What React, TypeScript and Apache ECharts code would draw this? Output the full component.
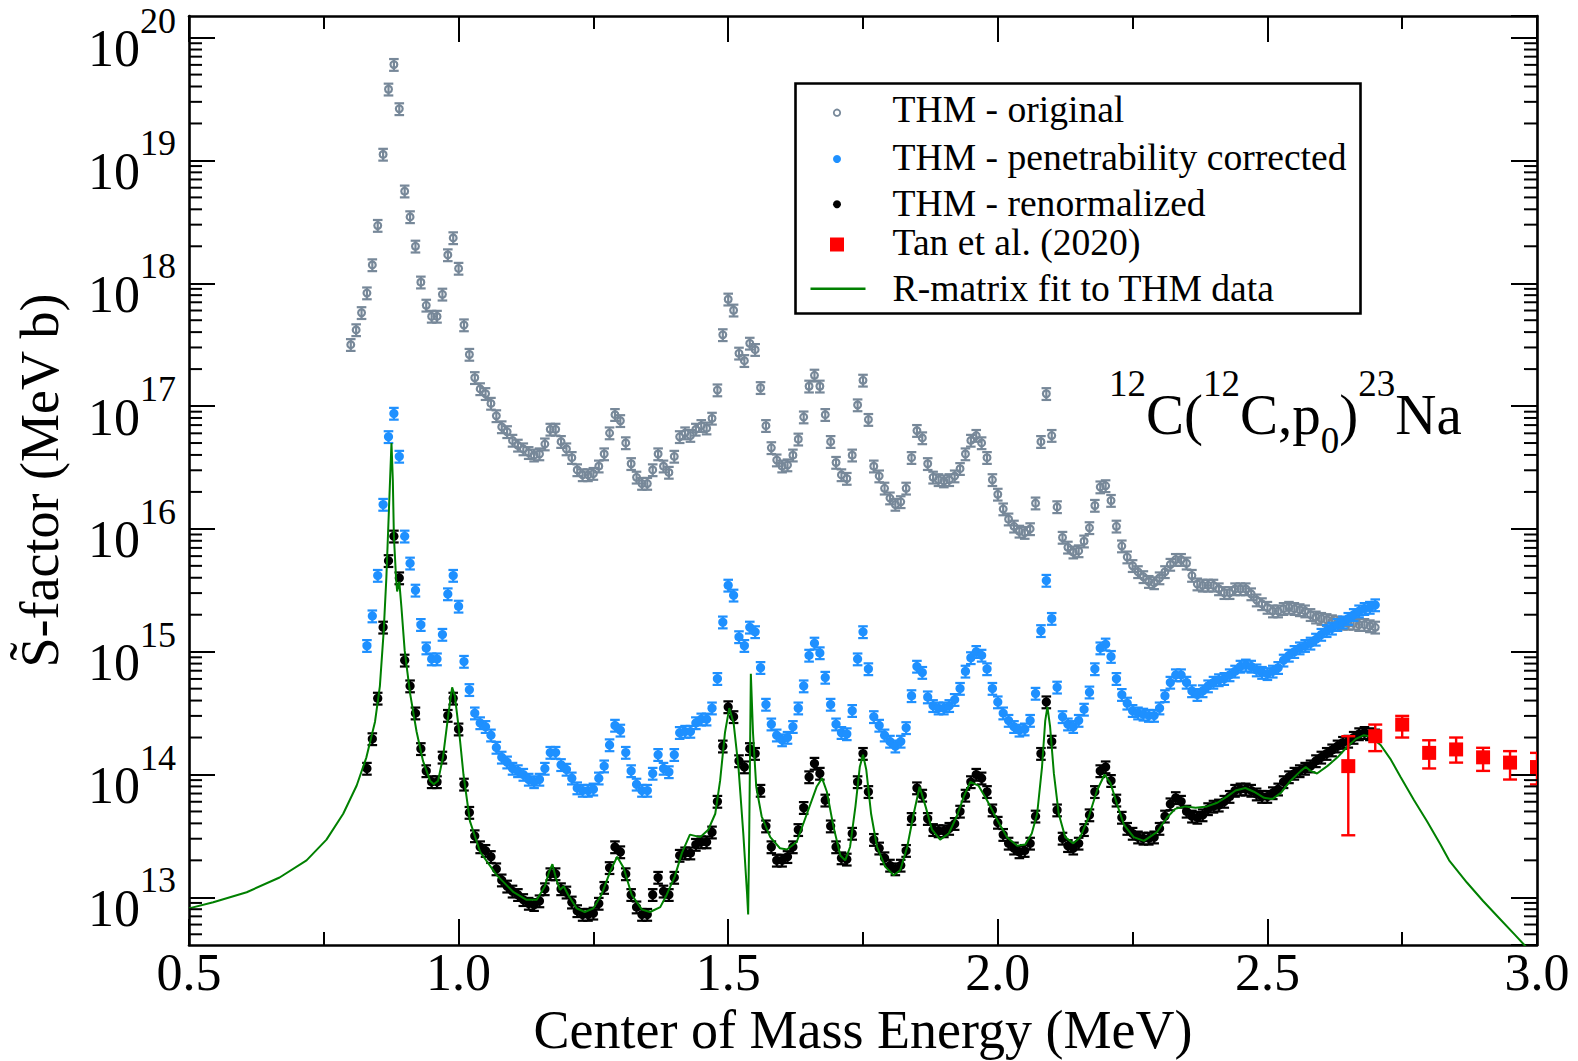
import React, { useEffect, useRef } from "react";
import * as echarts from "echarts";

// ---------------- data ----------------
const FONT = "'Liberation Serif', 'Times New Roman', serif";

const X_MIN = 0.5;
const X_MAX = 3.0;
const X_INTERVAL = 0.5;
const Y_MIN = 4.09e12;
const Y_MAX = 1.5e20;

const xTickLabels = ["0.5", "1.0", "1.5", "2.0", "2.5", "3.0"];

// relative error bar of the THM points (as drawn)
const THM_REL_ERR = 0.11;

const thmEnergy = [
  0.80, 0.81, 0.82, 0.83, 0.84, 0.85, 0.86, 0.87, 0.88, 0.89,
  0.90, 0.91, 0.92, 0.93, 0.94, 0.95, 0.96, 0.97, 0.98, 0.99,
  1.00, 1.01, 1.02, 1.03, 1.04, 1.05, 1.06, 1.07, 1.08, 1.09,
  1.10, 1.11, 1.12, 1.13, 1.14, 1.15, 1.16, 1.17, 1.18, 1.19,
  1.20, 1.21, 1.22, 1.23, 1.24, 1.25, 1.26, 1.27, 1.28, 1.29,
  1.30, 1.31, 1.32, 1.33, 1.34, 1.35, 1.36, 1.37, 1.38, 1.39,
  1.40, 1.41, 1.42, 1.43, 1.44, 1.45, 1.46, 1.47, 1.48, 1.49,
  1.50, 1.51, 1.52, 1.53, 1.54, 1.55, 1.56, 1.57, 1.58, 1.59,
  1.60, 1.61, 1.62, 1.63, 1.64, 1.65, 1.66, 1.67, 1.68, 1.69,
  1.70, 1.71, 1.72, 1.73, 1.74, 1.75, 1.76, 1.77, 1.78, 1.79,
  1.80, 1.81, 1.82, 1.83, 1.84, 1.85, 1.86, 1.87, 1.88, 1.89,
  1.90, 1.91, 1.92, 1.93, 1.94, 1.95, 1.96, 1.97, 1.98, 1.99,
  2.00, 2.01, 2.02, 2.03, 2.04, 2.05, 2.06, 2.07, 2.08, 2.09,
  2.10, 2.11, 2.12, 2.13, 2.14, 2.15, 2.16, 2.17, 2.18, 2.19,
  2.20, 2.21, 2.22, 2.23, 2.24, 2.25, 2.26, 2.27, 2.28, 2.29,
  2.30, 2.31, 2.32, 2.33, 2.34, 2.35, 2.36, 2.37, 2.38, 2.39,
  2.40, 2.41, 2.42, 2.43, 2.44, 2.45, 2.46, 2.47, 2.48, 2.49,
  2.50, 2.51, 2.52, 2.53, 2.54, 2.55, 2.56, 2.57, 2.58, 2.59,
  2.60, 2.61, 2.62, 2.63, 2.64, 2.65, 2.66, 2.67, 2.68, 2.69,
  2.70,
];

const thmOriginal = [
  3.16e17, 4.17e17, 5.75e17, 8.32e17, 1.41e18, 2.95e18, 1.12e19, 3.80e19, 6.03e19, 2.63e19,
  5.62e18, 3.47e18, 2.00e18, 1.02e18, 6.61e17, 5.37e17, 5.37e17, 8.13e17, 1.70e18, 2.34e18,
  1.32e18, 4.57e17, 2.63e17, 1.70e17, 1.38e17, 1.26e17, 1.05e17, 8.32e16, 6.76e16, 6.17e16,
  5.25e16, 4.79e16, 4.47e16, 4.17e16, 3.98e16, 4.07e16, 4.90e16, 6.46e16, 6.46e16, 5.13e16,
  4.47e16, 3.80e16, 3.02e16, 2.75e16, 2.75e16, 2.82e16, 3.24e16, 4.07e16, 6.03e16, 8.51e16,
  7.59e16, 5.01e16, 3.39e16, 2.63e16, 2.34e16, 2.34e16, 3.02e16, 4.07e16, 3.24e16, 2.88e16,
  3.89e16, 5.62e16, 6.03e16, 5.75e16, 6.46e16, 6.92e16, 6.61e16, 7.94e16, 1.35e17, 3.80e17,
  7.41e17, 6.03e17, 2.69e17, 2.34e17, 3.24e17, 2.88e17, 1.41e17, 6.92e16, 4.57e16, 3.63e16,
  3.24e16, 3.31e16, 3.98e16, 5.37e16, 8.13e16, 1.45e17, 1.78e17, 1.45e17, 8.51e16, 5.13e16,
  3.47e16, 2.75e16, 2.57e16, 3.98e16, 1.02e17, 1.62e17, 7.76e16, 3.24e16, 2.69e16, 2.14e16,
  1.78e16, 1.58e16, 1.66e16, 2.14e16, 3.80e16, 6.31e16, 5.50e16, 3.39e16, 2.63e16, 2.51e16,
  2.45e16, 2.51e16, 2.69e16, 3.09e16, 4.07e16, 5.25e16, 5.75e16, 5.01e16, 3.80e16, 2.51e16,
  1.91e16, 1.45e16, 1.20e16, 1.05e16, 9.55e15, 9.33e15, 1.00e16, 1.62e16, 5.13e16, 1.26e17,
  5.75e16, 1.51e16, 8.51e15, 7.08e15, 6.46e15, 6.61e15, 7.94e15, 1.02e16, 1.55e16, 2.19e16,
  2.24e16, 1.70e16, 1.05e16, 7.24e15, 5.89e15, 5.01e15, 4.47e15, 4.07e15, 3.72e15, 3.63e15,
  3.98e15, 4.47e15, 5.13e15, 5.62e15, 5.62e15, 5.25e15, 4.17e15, 3.55e15, 3.47e15, 3.47e15,
  3.47e15, 3.24e15, 3.02e15, 3.02e15, 3.24e15, 3.24e15, 3.24e15, 2.95e15, 2.63e15, 2.45e15,
  2.29e15, 2.14e15, 2.14e15, 2.24e15, 2.29e15, 2.24e15, 2.19e15, 2.14e15, 2.00e15, 1.91e15,
  1.86e15, 1.82e15, 1.78e15, 1.74e15, 1.70e15, 1.70e15, 1.70e15, 1.66e15, 1.66e15, 1.62e15,
  1.58e15,
];

const thmCorrected = [
  null, null, null, 1.12e15, 1.95e15, 4.17e15, 1.58e16, 5.62e16, 8.71e16, 3.89e16,
  8.71e15, 5.25e15, 3.16e15, 1.66e15, 1.07e15, 8.71e14, 8.71e14, 1.38e15, 2.95e15, 4.17e15,
  2.34e15, 8.32e14, 4.90e14, 3.16e14, 2.63e14, 2.45e14, 2.09e14, 1.66e14, 1.38e14, 1.26e14,
  1.12e14, 1.07e14, 1.00e14, 9.12e13, 8.71e13, 9.12e13, 1.12e14, 1.51e14, 1.51e14, 1.20e14,
  1.10e14, 9.33e13, 7.76e13, 7.41e13, 7.41e13, 7.59e13, 9.33e13, 1.17e14, 1.74e14, 2.51e14,
  2.29e14, 1.51e14, 1.07e14, 8.32e13, 7.41e13, 7.41e13, 1.02e14, 1.45e14, 1.12e14, 1.05e14,
  1.45e14, 2.19e14, 2.24e14, 2.24e14, 2.63e14, 2.82e14, 2.82e14, 3.47e14, 6.03e14, 1.74e15,
  3.47e15, 2.88e15, 1.32e15, 1.12e15, 1.58e15, 1.45e15, 7.41e14, 3.72e14, 2.57e14, 2.09e14,
  1.91e14, 2.00e14, 2.45e14, 3.47e14, 5.25e14, 9.33e14, 1.17e15, 9.77e14, 6.17e14, 3.72e14,
  2.57e14, 2.19e14, 2.14e14, 3.31e14, 8.71e14, 1.45e15, 7.24e14, 2.95e14, 2.51e14, 2.09e14,
  1.86e14, 1.70e14, 1.86e14, 2.40e14, 4.37e14, 7.59e14, 6.76e14, 4.27e14, 3.63e14, 3.47e14,
  3.47e14, 3.63e14, 4.07e14, 5.01e14, 6.92e14, 8.91e14, 1.00e15, 9.33e14, 7.24e14, 5.01e14,
  3.89e14, 3.16e14, 2.75e14, 2.45e14, 2.29e14, 2.34e14, 2.75e14, 4.57e14, 1.48e15, 3.80e15,
  1.86e15, 5.13e14, 2.95e14, 2.57e14, 2.45e14, 2.75e14, 3.39e14, 4.68e14, 7.24e14, 1.07e15,
  1.15e15, 9.12e14, 6.03e14, 4.47e14, 3.80e14, 3.31e14, 3.16e14, 3.09e14, 3.02e14, 3.02e14,
  3.47e14, 4.37e14, 5.62e14, 6.46e14, 6.46e14, 5.62e14, 4.79e14, 4.47e14, 4.79e14, 5.25e14,
  5.62e14, 5.89e14, 6.03e14, 6.46e14, 6.92e14, 7.59e14, 7.76e14, 7.59e14, 7.08e14, 6.76e14,
  6.61e14, 6.92e14, 7.41e14, 8.51e14, 9.33e14, 1.00e15, 1.07e15, 1.12e15, 1.17e15, 1.26e15,
  1.38e15, 1.48e15, 1.55e15, 1.66e15, 1.74e15, 1.86e15, 2.00e15, 2.14e15, 2.24e15, 2.29e15,
  2.40e15,
];

const thmRenormalized = [
  null, null, null, 1.12e14, 1.95e14, 4.17e14, 1.58e15, 5.50e15, 8.71e15, 3.98e15,
  8.51e14, 5.25e14, 3.16e14, 1.62e14, 1.07e14, 8.71e13, 8.71e13, 1.38e14, 3.02e14, 4.17e14,
  2.34e14, 8.32e13, 4.90e13, 3.16e13, 2.57e13, 2.40e13, 2.14e13, 1.70e13, 1.38e13, 1.23e13,
  1.12e13, 1.05e13, 9.55e12, 8.91e12, 8.71e12, 9.33e12, 1.17e13, 1.55e13, 1.55e13, 1.17e13,
  1.10e13, 9.12e12, 7.76e12, 7.24e12, 7.24e12, 7.41e12, 8.91e12, 1.20e13, 1.74e13, 2.57e13,
  2.34e13, 1.55e13, 1.05e13, 8.32e12, 7.24e12, 7.24e12, 1.05e13, 1.45e13, 1.12e13, 1.05e13,
  1.45e13, 2.19e13, 2.29e13, 2.29e13, 2.69e13, 2.82e13, 2.82e13, 3.39e13, 6.03e13, 1.70e14,
  3.55e14, 2.95e14, 1.29e14, 1.15e14, 1.62e14, 1.48e14, 7.41e13, 3.80e13, 2.57e13, 2.00e13,
  2.00e13, 2.14e13, 2.57e13, 3.55e13, 5.37e13, 9.55e13, 1.23e14, 1.02e14, 6.17e13, 3.80e13,
  2.57e13, 2.09e13, 2.04e13, 3.31e13, 8.71e13, 1.48e14, 7.24e13, 2.95e13, 2.51e13, 2.09e13,
  1.82e13, 1.70e13, 1.82e13, 2.40e13, 4.37e13, 7.76e13, 6.76e13, 4.37e13, 3.55e13, 3.47e13,
  3.47e13, 3.63e13, 3.98e13, 5.01e13, 6.76e13, 8.71e13, 1.00e14, 9.33e13, 7.24e13, 5.13e13,
  4.07e13, 3.24e13, 2.75e13, 2.51e13, 2.34e13, 2.40e13, 2.75e13, 4.57e13, 1.48e14, 3.89e14,
  1.86e14, 5.13e13, 3.02e13, 2.63e13, 2.51e13, 2.75e13, 3.55e13, 4.68e13, 7.24e13, 1.07e14,
  1.15e14, 8.91e13, 6.17e13, 4.47e13, 3.63e13, 3.31e13, 3.09e13, 3.02e13, 3.02e13, 3.09e13,
  3.63e13, 4.57e13, 5.75e13, 6.46e13, 6.03e13, 5.01e13, 4.57e13, 4.47e13, 4.68e13, 5.25e13,
  5.50e13, 5.62e13, 6.03e13, 6.61e13, 7.41e13, 7.59e13, 7.59e13, 7.41e13, 6.92e13, 6.61e13,
  6.61e13, 7.08e13, 7.59e13, 8.71e13, 9.55e13, 1.02e14, 1.07e14, 1.12e14, 1.17e14, 1.29e14,
  1.38e14, 1.48e14, 1.58e14, 1.70e14, 1.82e14, 1.86e14, 2.00e14, 2.14e14, 2.19e14, 2.14e14,
  2.09e14,
];

const tanEnergy = [2.65, 2.70, 2.75, 2.80, 2.85, 2.90, 2.95, 3.00];
const tanS = [1.17e14, 2.05e14, 2.55e14, 1.5e14, 1.6e14, 1.38e14, 1.25e14, 1.15e14];
const tanLow = [3.2e13, 1.55e14, 2.0e14, 1.12e14, 1.25e14, 1.07e14, 9.1e13, 8.3e13];
const tanHigh = [2.05e14, 2.55e14, 3.0e14, 1.9e14, 2.0e14, 1.65e14, 1.55e14, 1.5e14];

const rMatrixE = [
  0.500, 0.545, 0.607, 0.668, 0.718, 0.755, 0.786, 0.811, 0.829, 0.845,
  0.854, 0.861, 0.866, 0.871, 0.8755, 0.878, 0.880, 0.884, 0.886, 0.890,
  0.894, 0.900, 0.910, 0.922, 0.934, 0.947, 0.954, 0.962, 0.971, 0.981,
  0.988, 0.993, 1.001, 1.009, 1.021, 1.040, 1.071, 1.102, 1.126, 1.145,
  1.160, 1.168, 1.174, 1.181, 1.188, 1.195, 1.203, 1.219, 1.234, 1.250,
  1.265, 1.281, 1.294, 1.306, 1.321, 1.340, 1.355, 1.374, 1.386, 1.401,
  1.414, 1.429, 1.448, 1.463, 1.476, 1.485, 1.494, 1.502, 1.510, 1.519,
  1.528, 1.535, 1.537, 1.539, 1.542, 1.546, 1.552, 1.562, 1.578, 1.596,
  1.609, 1.627, 1.646, 1.664, 1.674, 1.683, 1.695, 1.708, 1.717, 1.726,
  1.736, 1.744, 1.750, 1.756, 1.765, 1.776, 1.791, 1.807, 1.819, 1.832,
  1.844, 1.855, 1.866, 1.878, 1.893, 1.909, 1.924, 1.937, 1.949, 1.964,
  1.980, 1.999, 2.017, 2.036, 2.051, 2.063, 2.073, 2.082, 2.088, 2.092,
  2.097, 2.104, 2.113, 2.125, 2.140, 2.153, 2.169, 2.184, 2.198, 2.209,
  2.221, 2.234, 2.252, 2.271, 2.295, 2.314, 2.329, 2.348, 2.367, 2.388,
  2.407, 2.425, 2.441, 2.459, 2.475, 2.494, 2.509, 2.525, 2.543, 2.562,
  2.571, 2.580, 2.592, 2.611, 2.630, 2.649, 2.664, 2.679, 2.691, 2.710,
  2.729, 2.747, 2.772, 2.796, 2.821, 2.837, 2.870, 2.900, 2.930, 2.960,
  3.000,
];

const rMatrixS = [
  8.13e12, 9.12e12, 1.10e13, 1.45e13, 2.00e13, 2.95e13, 4.79e13, 8.13e13, 1.38e14, 2.69e14,
  5.25e14, 1.45e15, 3.98e15, 1.51e16, 5.01e16, 2.51e16, 8.71e15, 3.98e15, 3.09e15, 3.72e15,
  2.29e15, 1.02e15, 4.57e14, 2.24e14, 1.29e14, 8.91e13, 8.32e13, 8.91e13, 1.38e14, 3.09e14,
  5.13e14, 4.37e14, 2.24e14, 1.00e14, 4.17e13, 2.34e13, 1.51e13, 1.10e13, 9.55e12, 9.55e12,
  1.23e13, 1.62e13, 1.86e13, 1.41e13, 1.15e13, 1.23e13, 1.05e13, 8.13e12, 7.59e12, 8.13e12,
  1.05e13, 1.62e13, 2.14e13, 1.74e13, 1.05e13, 7.94e12, 7.59e12, 8.32e12, 1.05e13, 1.48e13,
  2.29e13, 3.24e13, 3.09e13, 3.55e13, 4.79e13, 8.91e13, 2.19e14, 3.47e14, 2.63e14, 1.15e14,
  3.31e13, 1.07e13, 7.24e12, 3.31e13, 6.61e14, 2.19e14, 7.94e13, 4.57e13, 3.09e13, 2.51e13,
  2.45e13, 2.82e13, 4.79e13, 7.94e13, 9.33e13, 7.24e13, 3.80e13, 2.19e13, 2.00e13, 2.57e13,
  5.50e13, 1.15e14, 1.45e14, 1.10e14, 4.79e13, 2.57e13, 1.78e13, 1.51e13, 1.66e13, 2.57e13,
  4.79e13, 7.94e13, 5.50e13, 3.55e13, 2.95e13, 3.31e13, 4.57e13, 6.61e13, 8.71e13, 8.13e13,
  6.17e13, 4.27e13, 3.09e13, 2.63e13, 2.69e13, 3.31e13, 4.79e13, 1.15e14, 2.75e14, 3.55e14,
  2.45e14, 1.02e14, 4.79e13, 3.09e13, 2.75e13, 3.09e13, 4.57e13, 7.41e13, 1.00e14, 8.51e13,
  5.75e13, 3.89e13, 3.09e13, 2.88e13, 3.39e13, 4.47e13, 5.25e13, 5.50e13, 5.37e13, 5.50e13,
  5.89e13, 6.61e13, 7.41e13, 7.76e13, 7.24e13, 6.46e13, 6.31e13, 7.08e13, 8.91e13, 1.07e14,
  1.15e14, 1.07e14, 1.02e14, 1.17e14, 1.38e14, 1.70e14, 1.95e14, 2.09e14, 2.04e14, 1.74e14,
  1.32e14, 9.55e13, 6.17e13, 4.17e13, 2.69e13, 2.00e13, 1.32e13, 9.33e12, 6.76e12, 4.90e12,
  3.16e12,
];

// ---------------- styles ----------------
const GRAY = "#778899";
const BLUE = "#1e90ff";
const BLACK = "#000000";
const RED = "#ff0000";
const GREEN = "#008000";

const MAJOR_TICK = 26;
const MINOR_TICK = 13;

function thmRenderer(color: string, open: boolean) {
  return (_params: any, api: any) => {
    const e = api.value(0);
    const s = api.value(1);
    const c = api.coord([e, s]);
    const hi = api.coord([e, s * (1 + THM_REL_ERR)]);
    const lo = api.coord([e, s * (1 - THM_REL_ERR)]);
    const cap = 4.8;
    const lw = 2.2;
    const st = { stroke: color, lineWidth: lw };
    return {
      type: "group",
      children: [
        { type: "line", shape: { x1: c[0], y1: hi[1], x2: c[0], y2: lo[1] }, style: st },
        { type: "line", shape: { x1: c[0] - cap, y1: hi[1], x2: c[0] + cap, y2: hi[1] }, style: st },
        { type: "line", shape: { x1: c[0] - cap, y1: lo[1], x2: c[0] + cap, y2: lo[1] }, style: st },
        {
          type: "circle",
          shape: { cx: c[0], cy: c[1], r: open ? 3.4 : 4.6 },
          style: open ? { fill: "none", stroke: color, lineWidth: 2.2 } : { fill: color },
        },
      ],
    };
  };
}

function tanRenderer(_params: any, api: any) {
  const e = api.value(0);
  const c = api.coord([e, api.value(1)]);
  const lo = api.coord([e, api.value(2)]);
  const hi = api.coord([e, api.value(3)]);
  const cap = 7;
  const st = { stroke: RED, lineWidth: 2.4 };
  return {
    type: "group",
    children: [
      { type: "line", shape: { x1: c[0], y1: hi[1], x2: c[0], y2: lo[1] }, style: st },
      { type: "line", shape: { x1: c[0] - cap, y1: hi[1], x2: c[0] + cap, y2: hi[1] }, style: st },
      { type: "line", shape: { x1: c[0] - cap, y1: lo[1], x2: c[0] + cap, y2: lo[1] }, style: st },
      { type: "rect", shape: { x: c[0] - 7, y: c[1] - 7, width: 14, height: 14 }, style: { fill: RED } },
    ],
  };
}

function minorLogTickRenderer(_params: any, api: any) {
  const v = api.value(1);
  const pl = api.coord([X_MIN, v]);
  const pr = api.coord([X_MAX, v]);
  const st = { stroke: "#000", lineWidth: 2 };
  return {
    type: "group",
    children: [
      { type: "line", shape: { x1: pl[0], y1: pl[1], x2: pl[0] + MINOR_TICK, y2: pl[1] }, style: st },
      { type: "line", shape: { x1: pr[0] - MINOR_TICK, y1: pr[1], x2: pr[0], y2: pr[1] }, style: st },
    ],
  };
}

function buildOption() {
  const pts = (ys: (number | null)[]) =>
    thmEnergy.map((e, i) => [e, ys[i]]).filter((p) => p[1] != null);

  const minorTickValues: number[][] = [];
  for (let n = 12; n <= 20; n++) {
    for (let k = 2; k <= 9; k++) {
      const v = k * Math.pow(10, n);
      if (v > Y_MIN && v < Y_MAX) minorTickValues.push([X_MIN, v]);
    }
  }

  const axisLine = { show: true, onZero: false, lineStyle: { color: "#000", width: 2.6 } };
  const xTick = { show: true, inside: true, length: MAJOR_TICK, lineStyle: { color: "#000", width: 2 } };
  const xMinor = { show: true, splitNumber: 2, length: MINOR_TICK, lineStyle: { color: "#000", width: 2 } };

  const legendRows = [
    { y: 112.7, text: "THM - original", ty: 109 },
    { y: 159, text: "THM - penetrability corrected", ty: 157 },
    { y: 204.3, text: "THM - renormalized", ty: 203.3 },
    { y: 244.5, text: "Tan et al. (2020)", ty: 242.5 },
    { y: 288.8, text: "R-matrix fit to THM data", ty: 288 },
  ];

  return {
    animation: false,
    backgroundColor: "#ffffff",
    textStyle: { fontFamily: FONT },
    grid: { left: 189, top: 16, width: 1348, height: 929, outerBoundsMode: "none", containLabel: false },
    xAxis: [
      {
        type: "value",
        position: "bottom",
        min: X_MIN,
        max: X_MAX,
        interval: X_INTERVAL,
        name: "Center of Mass Energy (MeV)",
        nameLocation: "middle",
        nameGap: 64,
        nameMoveOverlap: false,
        nameTextStyle: { fontFamily: FONT, fontSize: 54, color: "#000", lineHeight: 42 },
        axisLine,
        axisTick: xTick,
        minorTick: xMinor,
        splitLine: { show: false },
        minorSplitLine: { show: false },
        axisLabel: {
          show: true,
          margin: 6,
          fontFamily: FONT,
          fontSize: 52,
          lineHeight: 42,
          color: "#000",
          formatter: (v: number) => {
            const i = Math.round((v - X_MIN) / X_INTERVAL);
            return xTickLabels[i] ?? "";
          },
        },
      },
      {
        type: "value",
        position: "top",
        min: X_MIN,
        max: X_MAX,
        interval: X_INTERVAL,
        axisLine,
        axisTick: xTick,
        minorTick: xMinor,
        splitLine: { show: false },
        axisLabel: { show: false },
      },
    ],
    yAxis: [
      {
        type: "log",
        logBase: 10,
        position: "left",
        min: Y_MIN,
        max: Y_MAX,
        name: "S\u0303-factor (MeV b)",
        nameLocation: "middle",
        nameGap: 122,
        nameRotate: 90,
        nameMoveOverlap: false,
        nameTextStyle: { fontFamily: FONT, fontSize: 54, color: "#000", lineHeight: 54 },
        axisLine,
        axisTick: { show: true, inside: true, length: MAJOR_TICK, lineStyle: { color: "#000", width: 2 } },
        splitLine: { show: false },
        axisLabel: {
          show: true,
          showMinLabel: false,
          showMaxLabel: false,
          margin: 13,
          color: "#000",
          formatter: (v: number) => `{b|10}{s|${Math.round(Math.log10(v))}}`,
          rich: {
            b: { fontFamily: FONT, fontSize: 52, color: "#000", padding: [22, 0, 0, 0] },
            s: { fontFamily: FONT, fontSize: 36, color: "#000", padding: [2, 0, 0, 0], verticalAlign: "top" },
          },
        },
      },
      {
        type: "log",
        logBase: 10,
        position: "right",
        min: Y_MIN,
        max: Y_MAX,
        axisLine,
        axisTick: { show: true, inside: true, length: MAJOR_TICK, lineStyle: { color: "#000", width: 2 } },
        splitLine: { show: false },
        axisLabel: { show: false },
      },
    ],
    series: [
      {
        type: "custom",
        name: "THM - original",
        renderItem: thmRenderer(GRAY, true),
        data: pts(thmOriginal),
        encode: { x: 0, y: 1 },
        clip: true,
        z: 2,
      },
      {
        type: "custom",
        name: "THM - penetrability corrected",
        renderItem: thmRenderer(BLUE, false),
        data: pts(thmCorrected),
        encode: { x: 0, y: 1 },
        clip: true,
        z: 3,
      },
      {
        type: "custom",
        name: "THM - renormalized",
        renderItem: thmRenderer(BLACK, false),
        data: pts(thmRenormalized),
        encode: { x: 0, y: 1 },
        clip: true,
        z: 4,
      },
      {
        type: "line",
        name: "R-matrix fit to THM data",
        data: rMatrixE.map((e, i) => [e, rMatrixS[i]]),
        showSymbol: false,
        symbol: "none",
        smooth: false,
        clip: true,
        lineStyle: { color: GREEN, width: 2 },
        z: 5,
      },
      {
        type: "custom",
        name: "Tan et al. (2020)",
        renderItem: tanRenderer,
        data: tanEnergy.map((e, i) => [e, tanS[i], tanLow[i], tanHigh[i]]),
        encode: { x: 0, y: [1, 2, 3] },
        clip: true,
        z: 6,
      },
      {
        type: "custom",
        name: "minor ticks",
        renderItem: minorLogTickRenderer,
        data: minorTickValues,
        encode: { x: 0, y: 1 },
        clip: false,
        silent: true,
        z: 7,
      },
    ],
    graphic: [
      {
        type: "rect",
        shape: { x: 795.5, y: 83.5, width: 565, height: 230 },
        style: { fill: "#fff", stroke: "#000", lineWidth: 2.6 },
        z: 100,
      },
      { type: "circle", shape: { cx: 837, cy: legendRows[0].y, r: 3.2 }, style: { fill: "none", stroke: GRAY, lineWidth: 1.8 }, z: 101 },
      { type: "circle", shape: { cx: 837, cy: legendRows[1].y, r: 4 }, style: { fill: BLUE }, z: 101 },
      { type: "circle", shape: { cx: 837, cy: legendRows[2].y, r: 4 }, style: { fill: BLACK }, z: 101 },
      { type: "rect", shape: { x: 830, y: legendRows[3].y - 7, width: 14, height: 14 }, style: { fill: RED }, z: 101 },
      { type: "line", shape: { x1: 810.5, y1: legendRows[4].y, x2: 865.5, y2: legendRows[4].y }, style: { stroke: GREEN, lineWidth: 2.5 }, z: 101 },
      ...legendRows.map((r) => ({
        type: "text",
        x: 892.6,
        y: r.ty,
        z: 101,
        style: {
          text: r.text,
          fontFamily: FONT,
          fontSize: 37.6,
          fill: "#000",
          textAlign: "left",
          textVerticalAlign: "middle",
        },
      })),
      {
        type: "text",
        x: 1109,
        y: 364.5,
        z: 101,
        style: {
          text: "{sup|12}{base|C(}{sup|12}{base|C,p}{sub|0}{base|)}{sup|23}{base|Na}",
          fill: "#000",
          textAlign: "left",
          textVerticalAlign: "top",
          rich: {
            base: { fontFamily: FONT, fontSize: 57, fill: "#000", padding: [21, 0, 16.5, 0] },
            sup: { fontFamily: FONT, fontSize: 37, fill: "#000", verticalAlign: "top" },
            sub: { fontFamily: FONT, fontSize: 37, fill: "#000", verticalAlign: "bottom" },
          },
        },
      },
    ],
  };
}

export default function App() {
  const ref = useRef<HTMLDivElement>(null);
  useEffect(() => {
    document.body.style.margin = "0";
    const chart = echarts.init(ref.current as HTMLDivElement, null, { renderer: "svg" });
    chart.setOption(buildOption() as any);
    return () => chart.dispose();
  }, []);
  return <div ref={ref} style={{ width: 1578, height: 1061 }} />;
}
